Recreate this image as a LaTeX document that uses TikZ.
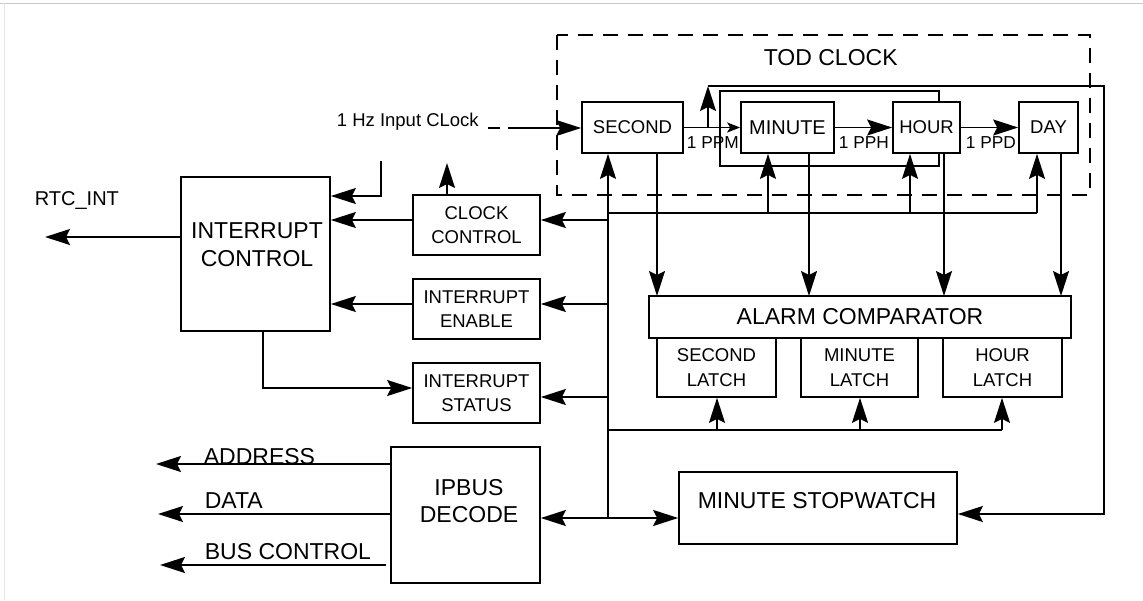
\documentclass[tikz,border=0pt]{standalone}
\usepackage{fontspec}
\setmainfont{Liberation Sans}
\usetikzlibrary{arrows.meta}
\newcommand\fbig{\fontsize{23}{27.5}\selectfont}
\newcommand\fmid{\fontsize{20}{24}\selectfont}
\newcommand\fsmall{\fontsize{18.5}{24.5}\selectfont}
\newcommand\ftiny{\fontsize{17.3}{20}\selectfont}
\begin{document}
\begin{tikzpicture}[x=1pt,y=-1pt,line width=1.7pt,
  box/.style={draw,rectangle,inner sep=0pt,align=center,fill=white,font=\fsmall},
  bigbox/.style={box,font=\fbig},
  arr/.style={-{Stealth[length=25pt,width=16pt,inset=4pt]}},
  smallarr/.style={-{Stealth[length=13pt,width=10pt,inset=3pt]}},
  dbl/.style={{Stealth[length=25pt,width=16pt,inset=4pt]}-{Stealth[length=25pt,width=16pt,inset=4pt]}},
  lbl/.style={anchor=base west,inner sep=0pt}]
\useasboundingbox (0,0) rectangle (1143,600);

% page frame
\draw[line width=1pt,black!22] (0,3) -- (1143,3);
\draw[line width=1pt,black!10] (4,3) -- (4,600);

% time-of-day clock group
\draw[dash pattern=on 15pt off 10pt] (557,35) rectangle (1090,195);
\node[lbl,font=\fbig] (todlbl) at (763,65) {TOD CLOCK};
\draw (720,91) rectangle (939,166);

\node[box,minimum width=101pt,minimum height=51pt] (sec)  at (632.5,127.5) {SECOND};
\node[box,font=\fmid,minimum width=93pt,minimum height=51pt] (min)  at (787.5,127.5) {MINUTE};
\node[box,minimum width=67pt,minimum height=51pt]  (hour) at (926.5,127.5) {HOUR};
\node[box,minimum width=59pt,minimum height=51pt]  (day)  at (1048.5,127.5) {DAY};

\node[lbl,font=\ftiny] at (686,148) {1 PPM};
\node[lbl,font=\ftiny] at (838,148) {1 PPH};
\node[lbl,font=\ftiny] at (965,148) {1 PPD};

% alarm section
\node[bigbox,minimum width=422pt,minimum height=42pt] (comp) at (860,317) {ALARM COMPARATOR};
\node[box,minimum width=119pt,minimum height=59pt] (sl) at (716.5,367.5) {SECOND\\LATCH};
\node[box,minimum width=117pt,minimum height=59pt] (ml) at (859.5,367.5) {MINUTE\\LATCH};
\node[box,minimum width=119pt,minimum height=59pt] (hl) at (1002.5,367.5) {HOUR\\LATCH};

% control registers
\node[box,minimum width=127pt,minimum height=60pt] (cc) at (476.5,225) {CLOCK\\CONTROL};
\node[box,minimum width=127pt,minimum height=60pt] (ie) at (476.5,309) {INTERRUPT\\ENABLE};
\node[box,minimum width=127pt,minimum height=60pt] (is) at (476.5,393) {INTERRUPT\\STATUS};

\node[box,minimum width=149pt,minimum height=154pt] (ic) at (255.5,254) {};
\node[font=\fbig,align=center] (ictext) at (257,244.5) {INTERRUPT\\CONTROL};

\node[box,minimum width=149pt,minimum height=136pt] (ipb) at (465.5,515) {};
\node[font=\fbig,align=center] (ipbtext) at (469,501) {IPBUS\\DECODE};

\node[box,minimum width=278pt,minimum height=72pt] (sw) at (818,508) {};
\node[font=\fbig] (swtext) at (817,501) {MINUTE STOPWATCH};

% text labels
\node[lbl,font=\fsmall] (hzlbl) at (336,126.5) {1 Hz Input CLock};
\node[lbl,font=\fmid] (rtclbl) at (34,205) {RTC\_INT};
\node[lbl,font=\fbig] (adrlbl) at (203,464) {ADDRESS};
\node[lbl,font=\fbig] (datlbl) at (204,508) {DATA};
\node[lbl,font=\fbig] (bclbl) at (204,559) {BUS CONTROL};

% helper points
\coordinate (busB) at (608,518);
\coordinate (yCC) at (0,220);
\coordinate (yIE) at (0,304);
\coordinate (yIS) at (0,397);
\coordinate (tap) at (708,128);
\coordinate (loopT) at (708,86);
\coordinate (loopB) at (1104,514);
\coordinate (hzA) at (488,128);
\coordinate (hzB) at (500,128);
\coordinate (hzC) at (508,128);
\coordinate (ccUp) at (447,163);
\coordinate (fbT) at (381,161);
\coordinate (fbC) at (381,196);
\coordinate (rtc) at (45,237);
\coordinate (icS) at (263,388);
\coordinate (d1) at (657,296);
\coordinate (d2) at (809,296);
\coordinate (d3) at (944,296);
\coordinate (d4) at (1061,296);
\coordinate (u1) at (768,213);
\coordinate (u2) at (910,213);
\coordinate (u3) at (1037,213);
\coordinate (l1) at (717,430);
\coordinate (l2) at (860,430);
\coordinate (l3) at (1002,430);
\coordinate (oa) at (156,464);
\coordinate (od) at (158,514);
\coordinate (obS) at (386,565);
\coordinate (ob) at (160,565);

% clock chain
\draw[dash pattern=on 12pt off 8pt] (hzA) -- (hzB);
\draw[arr] (hzC) -- (sec.west |- hzC);
\draw[smallarr] (sec.east) -- (min.west);
\draw[arr] (min.east) -- (hour.west);
\draw[arr] (hour.east) -- (day.west);
\draw[arr] (tap) -- (loopT);
\draw[arr] (loopT) -| (loopB) -- (sw.east |- loopB);

% counters to comparator
\draw[arr] (sec.south -| d1) -- (d1);
\draw[arr] (min.south -| d2) -- (d2);
\draw[arr] (hour.south -| d3) -- (d3);
\draw[arr] (day.south -| d4) -- (d4);

% internal bus
\draw[arr] (busB) -- (sec.south -| busB);
\draw (busB |- u1) -- (u3);
\draw[arr] (u1) -- (min.south -| u1);
\draw[arr] (u2) -- (hour.south -| u2);
\draw[arr] (u3) -- (day.south -| u3);
\draw (busB |- l1) -- (l3);
\draw[arr] (l1) -- (sl.south -| l1);
\draw[arr] (l2) -- (ml.south -| l2);
\draw[arr] (l3) -- (hl.south -| l3);
\draw[arr] (busB |- yCC) -- (cc.east |- yCC);
\draw[arr] (busB |- yIE) -- (ie.east |- yIE);
\draw[arr] (busB |- yIS) -- (is.east |- yIS);
\draw[dbl] (ipb.east |- busB) -- (sw.west |- busB);

% interrupt paths
\draw[arr] (cc.west |- yCC) -- (ic.east |- yCC);
\draw[arr] (ie.west |- yIE) -- (ic.east |- yIE);
\draw[arr] (cc.north -| ccUp) -- (ccUp);
\draw[arr] (fbT) -- (fbC) -- (ic.east |- fbC);
\draw[arr] (icS |- ic.south) -- (icS) -- (is.west |- icS);
\draw[arr] (ic.west |- rtc) -- (rtc);

% host interface
\draw[arr] (ipb.west |- oa) -- (oa);
\draw[arr] (ipb.west |- od) -- (od);
\draw[arr] (obS) -- (ob);
\end{tikzpicture}
\end{document}
